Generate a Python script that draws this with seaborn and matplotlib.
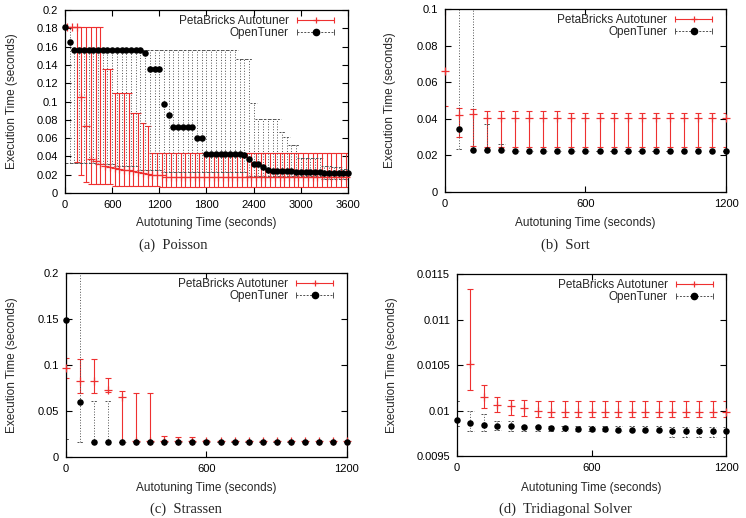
import matplotlib
matplotlib.use("Agg")
import matplotlib.pyplot as plt
from matplotlib.lines import Line2D
from matplotlib.legend_handler import HandlerLine2D, HandlerTuple
from matplotlib.ticker import FuncFormatter
import seaborn as sns
import numpy as np

sns.set_style("ticks")
plt.rcParams["font.family"] = ["Liberation Sans", "DejaVu Sans"]

RED = "#ee3030"
GREY = "#505050"

# ---------------- (a) Poisson ----------------
poisson_ot_t = list(range(0, 3601, 60))
poisson_ot_mean = [
    0.181, 0.165,
    0.156, 0.156, 0.156, 0.156, 0.156, 0.156, 0.156, 0.156,
    0.156, 0.156, 0.156, 0.156, 0.156, 0.156, 0.156,
    0.153, 0.135, 0.135, 0.135, 0.097, 0.085,
    0.072, 0.072, 0.072, 0.072, 0.072, 0.060, 0.060,
    0.043, 0.043, 0.043, 0.043, 0.043, 0.043, 0.043, 0.043,
    0.041, 0.037, 0.032, 0.032, 0.028, 0.025,
    0.024, 0.024, 0.024, 0.024, 0.024,
    0.023, 0.023, 0.023, 0.023, 0.023, 0.023,
    0.022, 0.022, 0.022, 0.022, 0.022, 0.022,
]
poisson_ot_low = [
    0.033, 0.033, 0.033, 0.033, 0.033, 0.033, 0.033,
    0.032, 0.032, 0.032, 0.032,
    0.029, 0.029, 0.029, 0.029, 0.029,
    0.025, 0.025, 0.025, 0.025, 0.025,
    0.023, 0.023, 0.023, 0.023, 0.023, 0.023, 0.023, 0.023, 0.023,
    0.023, 0.023, 0.023, 0.023, 0.023, 0.023, 0.023, 0.023, 0.023,
    0.019, 0.019, 0.019, 0.019, 0.019, 0.019, 0.019, 0.019,
    0.019, 0.019, 0.019, 0.019, 0.019, 0.019, 0.019, 0.019,
    0.015, 0.015, 0.015, 0.015, 0.015, 0.015,
]
poisson_ot_high = [
    0.181, 0.181,
    0.156, 0.156, 0.156, 0.156, 0.156, 0.156, 0.156, 0.156, 0.156, 0.156,
    0.156, 0.156, 0.156, 0.156, 0.156, 0.156, 0.156, 0.156, 0.156, 0.156,
    0.156, 0.156, 0.156, 0.156, 0.156, 0.156, 0.156, 0.156, 0.156, 0.156,
    0.156, 0.156, 0.156, 0.156, 0.156,
    0.146, 0.146, 0.146, 0.098,
    0.081, 0.081, 0.081, 0.081, 0.081,
    0.067, 0.061, 0.052, 0.052,
    0.038, 0.038, 0.038, 0.038, 0.038,
    0.030, 0.030, 0.028, 0.028, 0.026, 0.026,
]
poisson_pb_t = list(range(30, 3600, 60))
poisson_pb_mean = [
    0.181, 0.181, 0.181, 0.105, 0.073, 0.037, 0.035, 0.032, 0.030, 0.028,
    0.027, 0.026, 0.025, 0.025, 0.024, 0.023, 0.022, 0.021, 0.020, 0.020,
    0.020, 0.017, 0.017, 0.017, 0.017, 0.017, 0.017, 0.017, 0.017, 0.017,
    0.017, 0.017, 0.017, 0.017, 0.017, 0.017, 0.017, 0.017, 0.017, 0.017,
    0.017, 0.017, 0.017, 0.017, 0.017, 0.017, 0.017, 0.017, 0.017, 0.017,
    0.017, 0.017, 0.017, 0.017, 0.017, 0.017, 0.017, 0.017, 0.017, 0.017,
]
poisson_pb_low = [
    0.181, 0.181, 0.034, 0.020, 0.012, 0.0095, 0.0095, 0.0095, 0.0095, 0.0095,
    0.0073, 0.0073, 0.0073, 0.0073, 0.0073, 0.0073, 0.0073, 0.0073, 0.0073, 0.0073,
    0.0066, 0.0066, 0.0066, 0.0066, 0.0066, 0.0066, 0.0066, 0.0066, 0.0066, 0.0066,
    0.0066, 0.0066, 0.0066, 0.0066, 0.0066, 0.0066, 0.0066, 0.0066, 0.0066, 0.0066,
    0.0066, 0.0066, 0.0066, 0.0066, 0.0066, 0.0066, 0.0066, 0.0066, 0.0066, 0.0066,
    0.0066, 0.0066, 0.0066, 0.0066, 0.0066, 0.0066, 0.0066, 0.0066, 0.0066, 0.0066,
]
poisson_pb_high = [
    0.181, 0.181, 0.181, 0.181, 0.181, 0.181, 0.181, 0.181, 0.135, 0.135,
    0.109, 0.109, 0.109, 0.109, 0.087, 0.087, 0.077, 0.073, 0.044, 0.044,
    0.044, 0.044, 0.044, 0.044, 0.044, 0.044, 0.044, 0.044, 0.044, 0.044,
    0.044, 0.044, 0.044, 0.044, 0.044, 0.044, 0.044, 0.044, 0.044, 0.044,
    0.044, 0.044, 0.044, 0.044, 0.044, 0.044, 0.044, 0.044, 0.044, 0.044,
    0.044, 0.044, 0.044, 0.044, 0.044, 0.044, 0.044, 0.044, 0.044, 0.044,
]

# ---------------- (b) Sort ----------------
sort_pb_t = list(range(0, 1201, 60))
sort_pb_mean = [
    0.066, 0.042, 0.0425,
    0.0405, 0.0405, 0.0405, 0.0405, 0.0405, 0.0405, 0.0405, 0.0405, 0.0405,
    0.0405, 0.0405, 0.0405, 0.0405, 0.0405, 0.0405, 0.0405, 0.0405, 0.0405,
]
sort_pb_low = [
    0.047, 0.030, 0.025,
    0.0245, 0.0245, 0.0245, 0.0245, 0.0245, 0.0245, 0.0245, 0.0245, 0.0245,
    0.0245, 0.0245, 0.0245, 0.0245, 0.0245, 0.0245, 0.0245, 0.0245, 0.0245,
]
sort_pb_high = [
    0.11, 0.046, 0.0455,
    0.0445, 0.0445, 0.0445, 0.0445, 0.0445, 0.0445,
    0.043, 0.043, 0.043, 0.043, 0.043, 0.043, 0.043, 0.043, 0.043, 0.043, 0.043, 0.043,
]
sort_ot_t = list(range(60, 1201, 60))
sort_ot_mean = [
    0.0344, 0.0228, 0.0228, 0.0227,
    0.0225, 0.0225, 0.0225, 0.0225, 0.0225, 0.0225,
    0.0222, 0.0222, 0.0222, 0.0222, 0.0222, 0.0222, 0.0222, 0.0222, 0.0222, 0.0222,
]
sort_ot_low = [
    0.0234, 0.0228, 0.0228, 0.0227,
    0.0225, 0.0225, 0.0225, 0.0225, 0.0225, 0.0225,
    0.0222, 0.0222, 0.0222, 0.0222, 0.0222, 0.0222, 0.0222, 0.0222, 0.0222, 0.0222,
]
sort_ot_high = [
    0.11, 0.11, 0.0372, 0.0263,
    0.0225, 0.0225, 0.0225, 0.0225, 0.0225, 0.0225,
    0.0222, 0.0222, 0.0222, 0.0222, 0.0222, 0.0222, 0.0222, 0.0222, 0.0222, 0.0222,
]

# ---------------- (c) Strassen ----------------
strassen_pb_t = list(range(0, 1201, 60))
strassen_pb_mean = [
    0.097, 0.083, 0.083, 0.073, 0.065,
    0.017, 0.017, 0.017, 0.017, 0.017, 0.017, 0.017, 0.017,
    0.017, 0.017, 0.017, 0.017, 0.017, 0.017, 0.017, 0.017,
]
strassen_pb_low = [
    0.086, 0.070, 0.070, 0.071, 0.0165,
    0.0165, 0.0165, 0.0165, 0.0165, 0.0165, 0.0165, 0.0165, 0.0165,
    0.0165, 0.0165, 0.0165, 0.0165, 0.0165, 0.0165, 0.0165, 0.0165,
]
strassen_pb_high = [
    0.108, 0.107, 0.107, 0.086, 0.072, 0.070, 0.070, 0.023, 0.0214, 0.0214, 0.019,
    0.0175, 0.0175, 0.0175, 0.0175, 0.0175, 0.0175, 0.0175, 0.0175, 0.0175, 0.0175,
]
strassen_ot_t = list(range(0, 1201, 60))
strassen_ot_mean = [
    0.149, 0.060,
    0.0165, 0.0165, 0.0165, 0.0165, 0.0165, 0.0165, 0.0165, 0.0165, 0.0165, 0.0165,
    0.0165, 0.0165, 0.0165, 0.0165, 0.0165, 0.0165, 0.0165, 0.0165, 0.0165,
]
strassen_ot_low = [
    0.020, 0.0165,
    0.0165, 0.0165, 0.0165, 0.0165, 0.0165, 0.0165, 0.0165, 0.0165, 0.0165, 0.0165,
    0.0165, 0.0165, 0.0165, 0.0165, 0.0165, 0.0165, 0.0165, 0.0165, 0.0165,
]
strassen_ot_high = [
    0.149, 0.25,
    0.061, 0.061, 0.0165, 0.0165, 0.0165, 0.0165, 0.0165, 0.0165, 0.0165, 0.0165,
    0.0165, 0.0165, 0.0165, 0.0165, 0.0165, 0.0165, 0.0165, 0.0165, 0.0165,
]

# ---------------- (d) Tridiagonal Solver ----------------
tridiag_pb_t = list(range(60, 1201, 60))
tridiag_pb_mean = [
    0.01051, 0.01015, 0.01006, 0.01005, 0.01003, 0.01000,
    0.00998, 0.00998, 0.00998, 0.00998, 0.00998, 0.00998, 0.00998,
    0.00998, 0.00998, 0.00998, 0.00998, 0.00998, 0.00998, 0.00998,
]
tridiag_pb_low = [
    0.01023, 0.01003, 0.00998, 0.00995, 0.00994, 0.00993,
    0.00993, 0.00993, 0.00993, 0.00993, 0.00993, 0.00993, 0.00993,
    0.00993, 0.00993, 0.00993, 0.00993, 0.00993, 0.00993, 0.00993,
]
tridiag_pb_high = [
    0.01134, 0.01028, 0.01015, 0.01011, 0.01011, 0.01010,
    0.01010, 0.01010, 0.01010, 0.01010, 0.01010, 0.01010, 0.01010,
    0.01010, 0.01010, 0.01010, 0.01010, 0.01010, 0.01010, 0.01010,
]
tridiag_ot_t = list(range(0, 1201, 60))
tridiag_ot_mean = [
    0.00990, 0.00986, 0.00984, 0.00983, 0.00983, 0.00982, 0.00982,
    0.00981, 0.00981, 0.00980, 0.00980, 0.00980, 0.00979, 0.00979,
    0.00979, 0.00979, 0.00977, 0.00977, 0.00977, 0.00977, 0.00977,
]
tridiag_ot_low = [
    0.00983, 0.00978, 0.00978, 0.00979, 0.00978, 0.00978, 0.00978,
    0.00978, 0.00978, 0.00978, 0.00978, 0.00978, 0.00978, 0.00978,
    0.00978, 0.00978, 0.00971, 0.00971, 0.00971, 0.00971, 0.00971,
]
tridiag_ot_high = [
    0.01010, 0.01000, 0.00996, 0.00989, 0.00989, 0.00983, 0.00983,
    0.00983, 0.00983, 0.00983, 0.00983, 0.00983, 0.00983, 0.00983,
    0.00983, 0.00983, 0.00982, 0.00982, 0.00982, 0.00982, 0.00982,
]

LABELS = ["PetaBricks Autotuner", "OpenTuner"]


def draw_panel(ax, pb, ot, xmax, xticks, ylim, yticks):
    pb_t, pb_mean, pb_low, pb_high = [np.asarray(a, dtype=float) for a in pb]
    ot_t, ot_mean, ot_low, ot_high = [np.asarray(a, dtype=float) for a in ot]

    # PetaBricks: solid red bars with caps and + marks
    ax.errorbar(pb_t, pb_mean, yerr=[pb_mean - pb_low, pb_high - pb_mean],
                fmt="none", ecolor=RED, elinewidth=0.8, capsize=2.4, capthick=0.8, zorder=2)
    sns.scatterplot(x=pb_t, y=pb_mean, marker="+", color=RED, s=28, linewidth=0.9,
                    ax=ax, zorder=3, clip_on=False)

    # OpenTuner: dotted bars, dashed caps, black dots
    eb = ax.errorbar(ot_t, ot_mean, yerr=[ot_mean - ot_low, ot_high - ot_mean],
                     fmt="none", ecolor=GREY, elinewidth=0.7, capsize=0, zorder=2.5)
    eb[2][0].set_linestyle((0, (1, 1.8)))
    w = xmax * 0.0118
    for vals in (ot_low, ot_high):
        ax.hlines(vals, ot_t - w, ot_t + w, colors=GREY, linewidth=0.7,
                  linestyles=(0, (2, 1.5)), zorder=2.5)
    sns.scatterplot(x=ot_t, y=ot_mean, color="black", s=22, linewidth=0,
                    ax=ax, zorder=4, clip_on=False)

    ax.set_xlim(0, xmax)
    ax.set_ylim(*ylim)
    ax.set_xticks(xticks)
    ax.set_yticks(yticks)
    ax.yaxis.set_major_formatter(FuncFormatter(lambda v, p: f"{v:g}"))
    ax.xaxis.set_major_formatter(FuncFormatter(lambda v, p: f"{v:g}"))
    ax.tick_params(direction="in", length=4, width=0.8, top=True, right=True,
                   labelsize=8, pad=5, colors="black")
    for sp in ax.spines.values():
        sp.set_linewidth(0.9)
        sp.set_color("black")
        sp.set_visible(True)
    ax.set_xlabel("Autotuning Time (seconds)", fontsize=8.5)
    ax.set_ylabel("Execution Time (seconds)", fontsize=8.5)

    # gnuplot-like key: text left, sample right
    red_line = Line2D([], [], color=RED, lw=0.8, marker="|", markersize=5, mew=0.8)
    red_mid = Line2D([], [], color=RED, lw=0, marker="+", markersize=5, mew=0.9)
    grey_line = Line2D([], [], color=GREY, lw=0.7, ls=(0, (2, 1.5)), marker="|",
                       markersize=5, mew=0.7)
    black_mid = Line2D([], [], color="black", lw=0, marker="o", markersize=4.5)
    hmap = {red_line: HandlerLine2D(numpoints=2, marker_pad=0),
            grey_line: HandlerLine2D(numpoints=2, marker_pad=0),
            red_mid: HandlerLine2D(numpoints=1), black_mid: HandlerLine2D(numpoints=1),
            tuple: HandlerTuple(ndivide=1, pad=0)}
    ax.legend([(red_line, red_mid), (grey_line, black_mid)], LABELS, handler_map=hmap,
              loc="upper right", bbox_to_anchor=(0.95, 0.972), frameon=False,
              markerfirst=False, fontsize=8.5, handlelength=3.1, handletextpad=0.7,
              labelspacing=0.0, borderaxespad=0, borderpad=0)


fig = plt.figure(figsize=(7.46, 5.18), dpi=100)

ax_a = fig.add_axes([0.0871, 0.6274, 0.3794, 0.3533])
draw_panel(ax_a,
           (poisson_pb_t, poisson_pb_mean, poisson_pb_low, poisson_pb_high),
           (poisson_ot_t, poisson_ot_mean, poisson_ot_low, poisson_ot_high),
           3600, [0, 600, 1200, 1800, 2400, 3000, 3600], (0, 0.2),
           [0, 0.02, 0.04, 0.06, 0.08, 0.1, 0.12, 0.14, 0.16, 0.18, 0.2])

ax_b = fig.add_axes([0.5965, 0.6293, 0.3767, 0.3533])
draw_panel(ax_b,
           (sort_pb_t, sort_pb_mean, sort_pb_low, sort_pb_high),
           (sort_ot_t, sort_ot_mean, sort_ot_low, sort_ot_high),
           1200, [0, 600, 1200], (0, 0.1), [0, 0.02, 0.04, 0.06, 0.08, 0.1])

ax_c = fig.add_axes([0.0885, 0.1178, 0.3766, 0.3552])
draw_panel(ax_c,
           (strassen_pb_t, strassen_pb_mean, strassen_pb_low, strassen_pb_high),
           (strassen_ot_t, strassen_ot_mean, strassen_ot_low, strassen_ot_high),
           1200, [0, 600, 1200], (0, 0.2), [0, 0.05, 0.1, 0.15, 0.2])

ax_d = fig.add_axes([0.6126, 0.1197, 0.3606, 0.3513])
draw_panel(ax_d,
           (tridiag_pb_t, tridiag_pb_mean, tridiag_pb_low, tridiag_pb_high),
           (tridiag_ot_t, tridiag_ot_mean, tridiag_ot_low, tridiag_ot_high),
           1200, [0, 600, 1200], (0.0095, 0.0115),
           [0.0095, 0.01, 0.0105, 0.011, 0.0115])

# label positions
ax_a.yaxis.set_label_coords(-0.165, 0.5)
ax_b.yaxis.set_label_coords(-0.175, 0.5)
ax_c.yaxis.set_label_coords(-0.170, 0.5)
ax_d.yaxis.set_label_coords(-0.220, 0.5)
ax_a.xaxis.set_label_coords(0.5, -0.131)
ax_b.xaxis.set_label_coords(0.5, -0.137)
ax_c.xaxis.set_label_coords(0.5, -0.136)
ax_d.xaxis.set_label_coords(0.5, -0.143)

serif = ["Liberation Serif", "DejaVu Serif"]
fig.text(173 / 746, 1 - 245 / 518, "(a)  Poisson", family=serif, fontsize=10.5, ha="center", va="center")
fig.text(565 / 746, 1 - 245 / 518, "(b)  Sort", family=serif, fontsize=10.5, ha="center", va="center")
fig.text(186 / 746, 1 - 509 / 518, "(c)  Strassen", family=serif, fontsize=10.5, ha="center", va="center")
fig.text(565 / 746, 1 - 509 / 518, "(d)  Tridiagonal Solver", family=serif, fontsize=10.5, ha="center", va="center")

fig.savefig("out.png", dpi=100)
